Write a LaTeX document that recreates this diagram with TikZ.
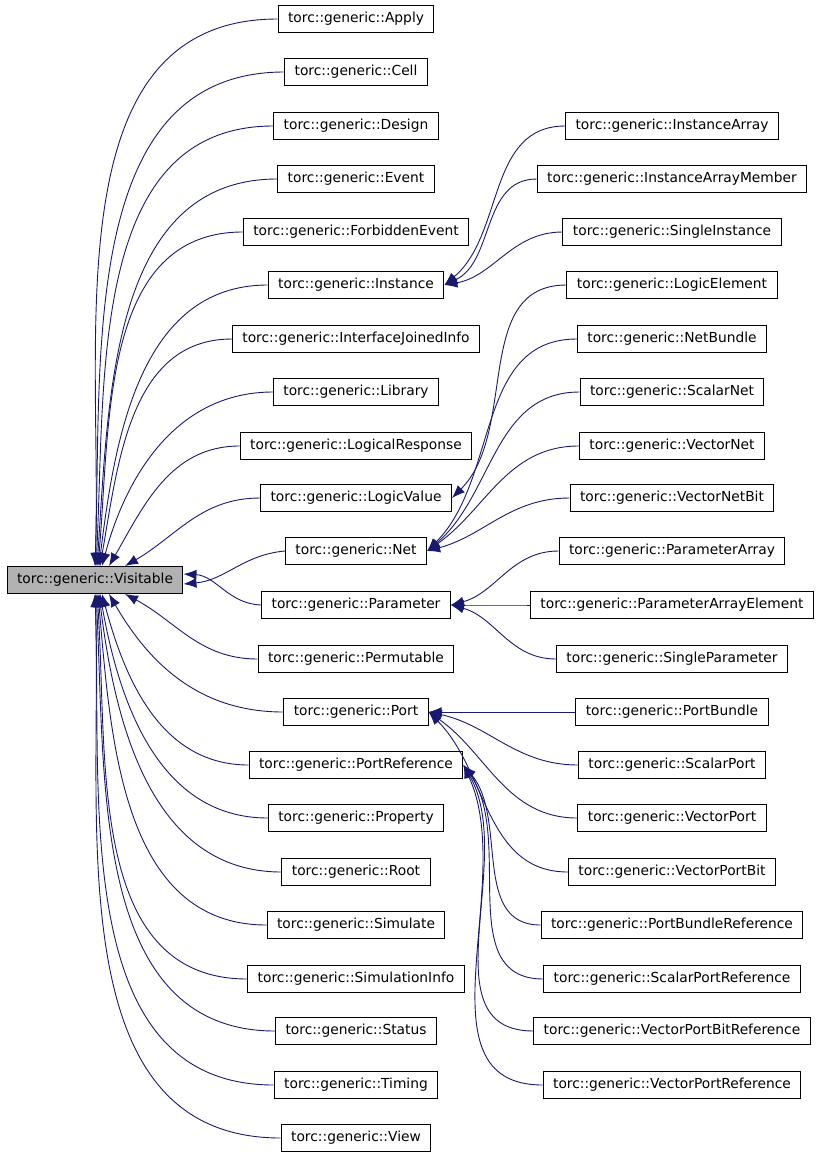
\documentclass[tikz,border=0pt]{standalone}
\usepackage{fontspec}
\setmainfont{DejaVu Sans}
\usetikzlibrary{arrows.meta}
\definecolor{navy}{HTML}{191970}
\begin{document}
\begin{tikzpicture}[
    x=1pt, y=-1pt,
    every node/.style = {
      shape=rectangle,
      draw=black,
      line width=1pt,
      sharp corners,
      minimum height=27pt,
      inner xsep=10pt,
      font=\fontsize{13.8}{16}\selectfont
    },
    base/.style = {fill=black!30},
    edge/.style = {draw=navy, line width=0.9pt, {Latex[length=13pt,width=10pt]}-}
  ]
    \useasboundingbox (0,0) rectangle (821,1160);
    \node[base] (vis) at (95,580) {torc::generic::Visitable};
    % middle column
    \foreach \n/\t/\y in {apply/Apply/19, cell/Cell/72, design/Design/126,
        event/Event/179, forbid/ForbiddenEvent/232, inst/Instance/285,
        iface/InterfaceJoinedInfo/339, lib/Library/392,
        lresp/LogicalResponse/446, lval/LogicValue/498, net/Net/551,
        param/Parameter/605, perm/Permutable/659, port/Port/712,
        pref/PortReference/765, prop/Property/818, root/Root/872,
        sim/Simulate/925, siminfo/SimulationInfo/979, status/Status/1031,
        timing/Timing/1085, view/View/1138}
      \node (\n) at (356,\y) {torc::generic::\t};
    % right column
    \foreach \n/\t/\y in {iarr/InstanceArray/126, iarrm/InstanceArrayMember/179,
        sinst/SingleInstance/232, lelem/LogicElement/285, nbun/NetBundle/339,
        snet/ScalarNet/392, vnet/VectorNet/446, vnbit/VectorNetBit/498,
        parr/ParameterArray/551, parre/ParameterArrayElement/605,
        spar/SingleParameter/659, pbun/PortBundle/712, sport/ScalarPort/765,
        vport/VectorPort/818, vpbit/VectorPortBit/872,
        pbref/PortBundleReference/925, spref/ScalarPortReference/979,
        vpbref/VectorPortBitReference/1031, vpref/VectorPortReference/1085}
      \node (\n) at (672,\y) {torc::generic::\t};
    % to Visitable
    \foreach \n/\s/\o in {apply/0/88, cell/0/88, design/1/87, event/2/86,
        forbid/3/85, inst/4/83, iface/5/80, lib/7/75, lresp/14/60, lval/30/30}
      \draw[edge] ([xshift=\s pt]vis.north) to[out=\o,in=180] (\n.west);
    \draw[edge] ([yshift=-4pt]vis.east) to[out=5,in=185] (net.west);
    \draw[edge] ([yshift=6pt]vis.east) to[out=-3,in=178] (param.west);
    \foreach \n/\s/\o in {perm/30/-28, port/14/-60, pref/7/-75, prop/5/-80,
        root/4/-83, sim/3/-85, siminfo/2/-86, status/1/-87, timing/0/-88,
        view/0/-88}
      \draw[edge] ([xshift=\s pt]vis.south) to[out=\o,in=180] (\n.west);
    % to the middle column
    \foreach \p/\n/\o in {inst/iarr/40, inst/iarrm/25, inst/sinst/10,
        lval/lelem/45, net/nbun/45, net/snet/40, net/vnet/35, net/vnbit/15,
        param/parr/15, param/parre/0, param/spar/-15,
        port/pbun/0, port/sport/-12, port/vport/-35, port/vpbit/-45,
        pref/pbref/-50, pref/spref/-55, pref/vpbref/-60, pref/vpref/-65}
      \draw[edge] (\p.east) to[out=\o,in=180] (\n.west);
\end{tikzpicture}
\end{document}
